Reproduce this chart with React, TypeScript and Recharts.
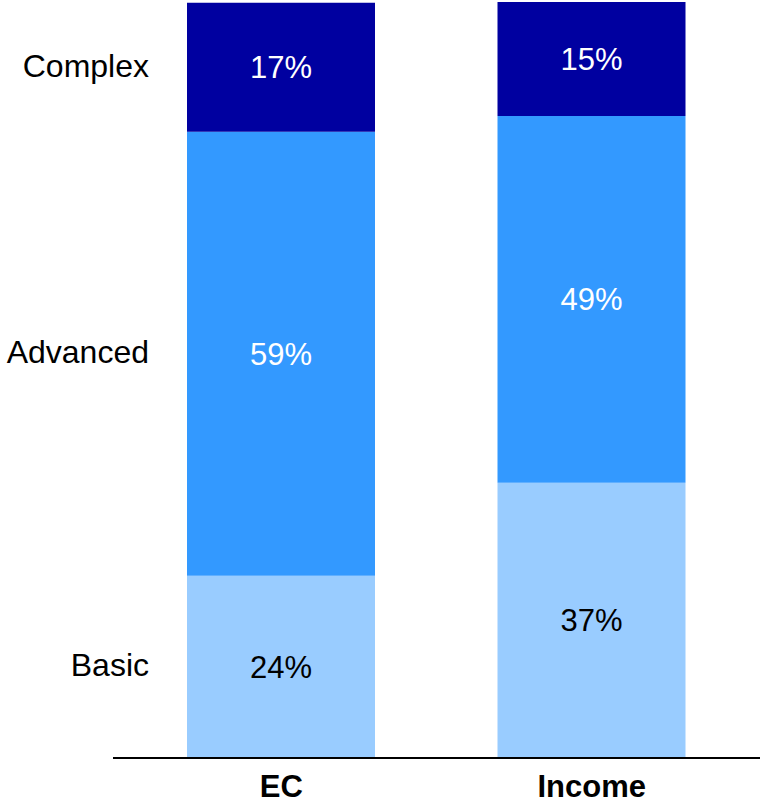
import React from 'react';
import { BarChart, Bar, XAxis, YAxis, LabelList } from 'recharts';

const categories = ['EC', 'Income'];
const layers = ['Basic', 'Advanced', 'Complex'];
const basic = [24.3, 36.7];
const advanced = [59.2, 48.9];
const complex = [17.2, 15.2];

const data = categories.map((name, i) => ({
  name,
  basic: basic[i],
  advanced: advanced[i],
  complex: complex[i],
}));

// left labels sit at the middle of each EC segment
const layerTicks = [
  basic[0] / 2,
  basic[0] + advanced[0] / 2,
  basic[0] + advanced[0] + complex[0] / 2,
];

const FONT = '"Liberation Sans", Arial, sans-serif';
const pct = (v: any) => `${Math.round(Number(v))}%`;

const App: React.FC = () => {
  return (
    <div style={{ position: 'absolute', left: 0, top: 0, width: 762, height: 803, background: '#fff' }}>
      <BarChart
        width={762}
        height={803}
        data={data}
        margin={{ top: 2, right: 2, bottom: 0, left: 0 }}
        style={{ fontFamily: FONT }}
      >
        <XAxis
          dataKey="name"
          height={45}
          axisLine={{ stroke: '#000', strokeWidth: 2 }}
          tickLine={false}
          tickMargin={11}
          padding={{ left: 13, right: 13 }}
          tick={{ fill: '#000', fontSize: 31, fontWeight: 'bold', fontFamily: FONT }}
        />
        <YAxis
          type="number"
          width={113}
          domain={[0, 100.8]}
          allowDataOverflow
          ticks={layerTicks}
          interval={0}
          axisLine={false}
          tickLine={false}
          tickMargin={-42}
          tickFormatter={(_v: any, i: number) => layers[i]}
          tick={{ fill: '#000', fontSize: 32, fontFamily: FONT, dy: -2 }}
        />
        <Bar dataKey="basic" stackId="a" fill="#99CCFF" barSize={188} isAnimationActive={false}>
          <LabelList dataKey="basic" position="center" formatter={pct} fill="#000" fontSize={31} fontFamily={FONT} />
        </Bar>
        <Bar dataKey="advanced" stackId="a" fill="#3399FF" barSize={188} isAnimationActive={false}>
          <LabelList dataKey="advanced" position="center" formatter={pct} fill="#fff" fontSize={31} fontFamily={FONT} />
        </Bar>
        <Bar dataKey="complex" stackId="a" fill="#0000A0" barSize={188} isAnimationActive={false}>
          <LabelList dataKey="complex" position="center" formatter={pct} fill="#fff" fontSize={31} fontFamily={FONT} />
        </Bar>
      </BarChart>
    </div>
  );
};

export default App;
